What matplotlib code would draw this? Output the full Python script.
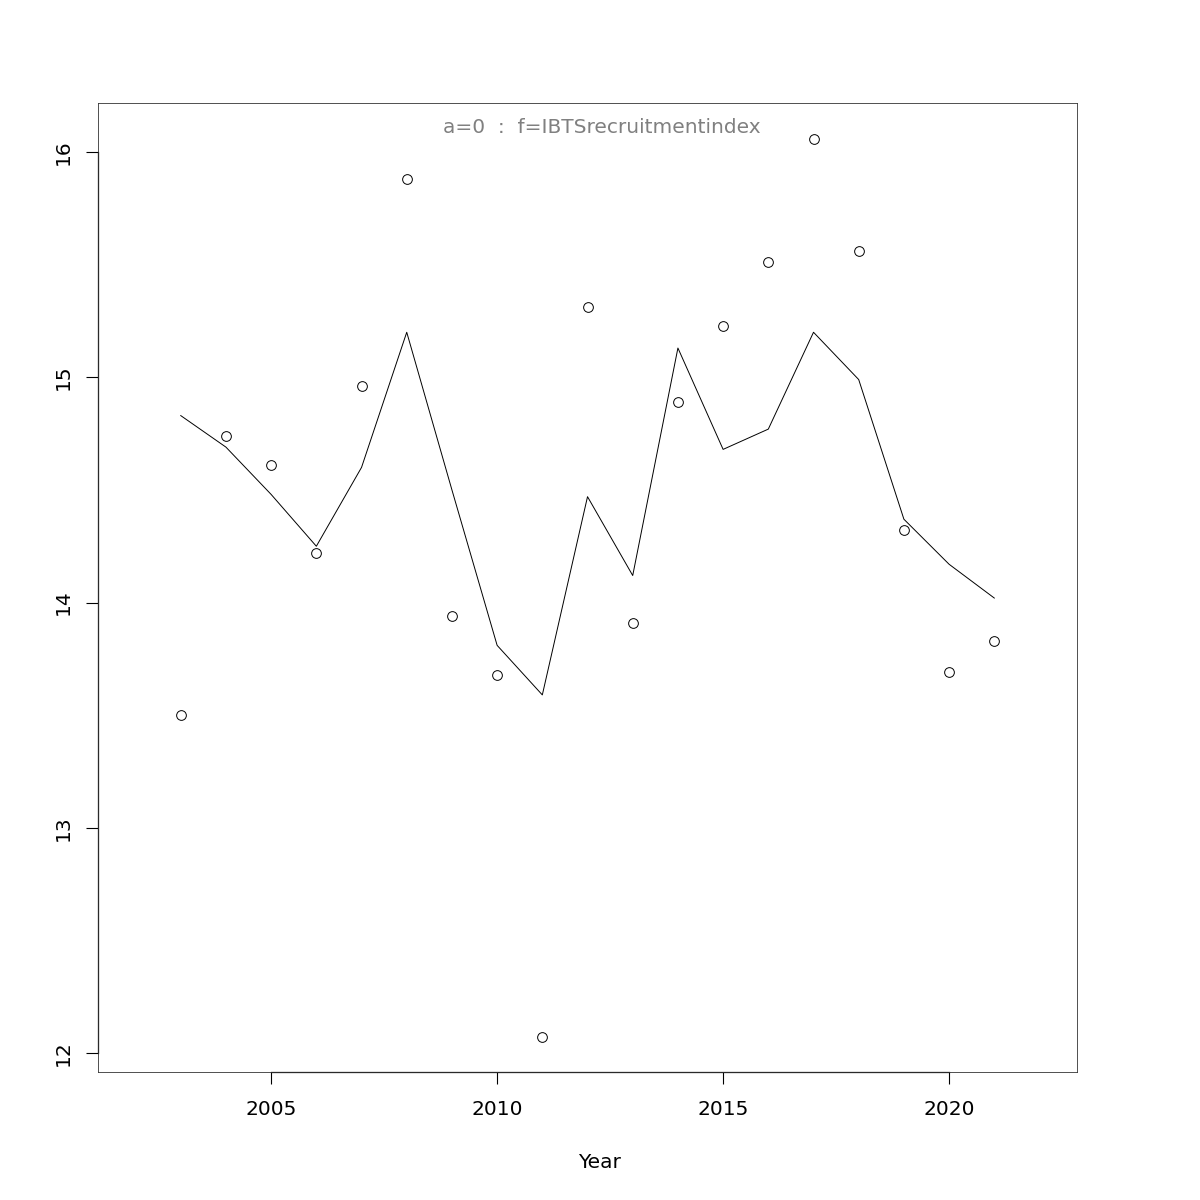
import matplotlib
matplotlib.use("Agg")
import matplotlib.pyplot as plt

years = list(range(2003, 2022))
observed = [13.50, 14.74, 14.61, 14.22, 14.96, 15.88, 13.94, 13.68, 12.07, 15.31,
            13.91, 14.89, 15.23, 15.51, 16.06, 15.56, 14.32, 13.69, 13.83]
fitted = [14.83, 14.69, 14.48, 14.25, 14.60, 15.20, 14.50, 13.81, 13.59, 14.47,
          14.12, 15.13, 14.68, 14.77, 15.20, 14.99, 14.37, 14.17, 14.02]
xticks = [2005, 2010, 2015, 2020]
yticks = [12, 13, 14, 15, 16]

fig = plt.figure(figsize=(12, 12), dpi=100)
ax = fig.add_axes([0.0817, 0.1067, 0.8158, 0.8075])

ax.plot(years, fitted, color="black", linewidth=0.7)
ax.plot(years, observed, "o", markerfacecolor="none", markeredgecolor="black",
        markersize=7, markeredgewidth=0.7)

ax.set_xlim(2001.17, 2022.83)
ax.set_ylim(11.916, 16.218)
ax.set_xticks(xticks)
ax.set_yticks(yticks)
ax.set_yticklabels([str(v) for v in yticks], rotation=90, va="center")
ax.tick_params(axis="both", direction="out", length=8.5, width=0.8,
               labelsize=14.5)
ax.tick_params(axis="x", pad=12)
ax.tick_params(axis="y", pad=10)
for s in ax.spines.values():
    s.set_linewidth(0.6)
    s.set_color("#333333")

# R style axis lines between the outer ticks
ax.plot([xticks[0], xticks[-1]], [11.916, 11.916], color="black", lw=0.9,
        clip_on=False)
ax.plot([2001.17, 2001.17], [yticks[0], yticks[-1]], color="black", lw=0.9,
        clip_on=False)

fig.text(0.5015, 0.894, "a=0  :  f=IBTSrecruitmentindex", ha="center",
         va="center", fontsize=14.5, color="#808080")
fig.text(0.5, 0.031, "Year", ha="center", va="center", fontsize=14.5)

fig.savefig("out.png", dpi=100)
